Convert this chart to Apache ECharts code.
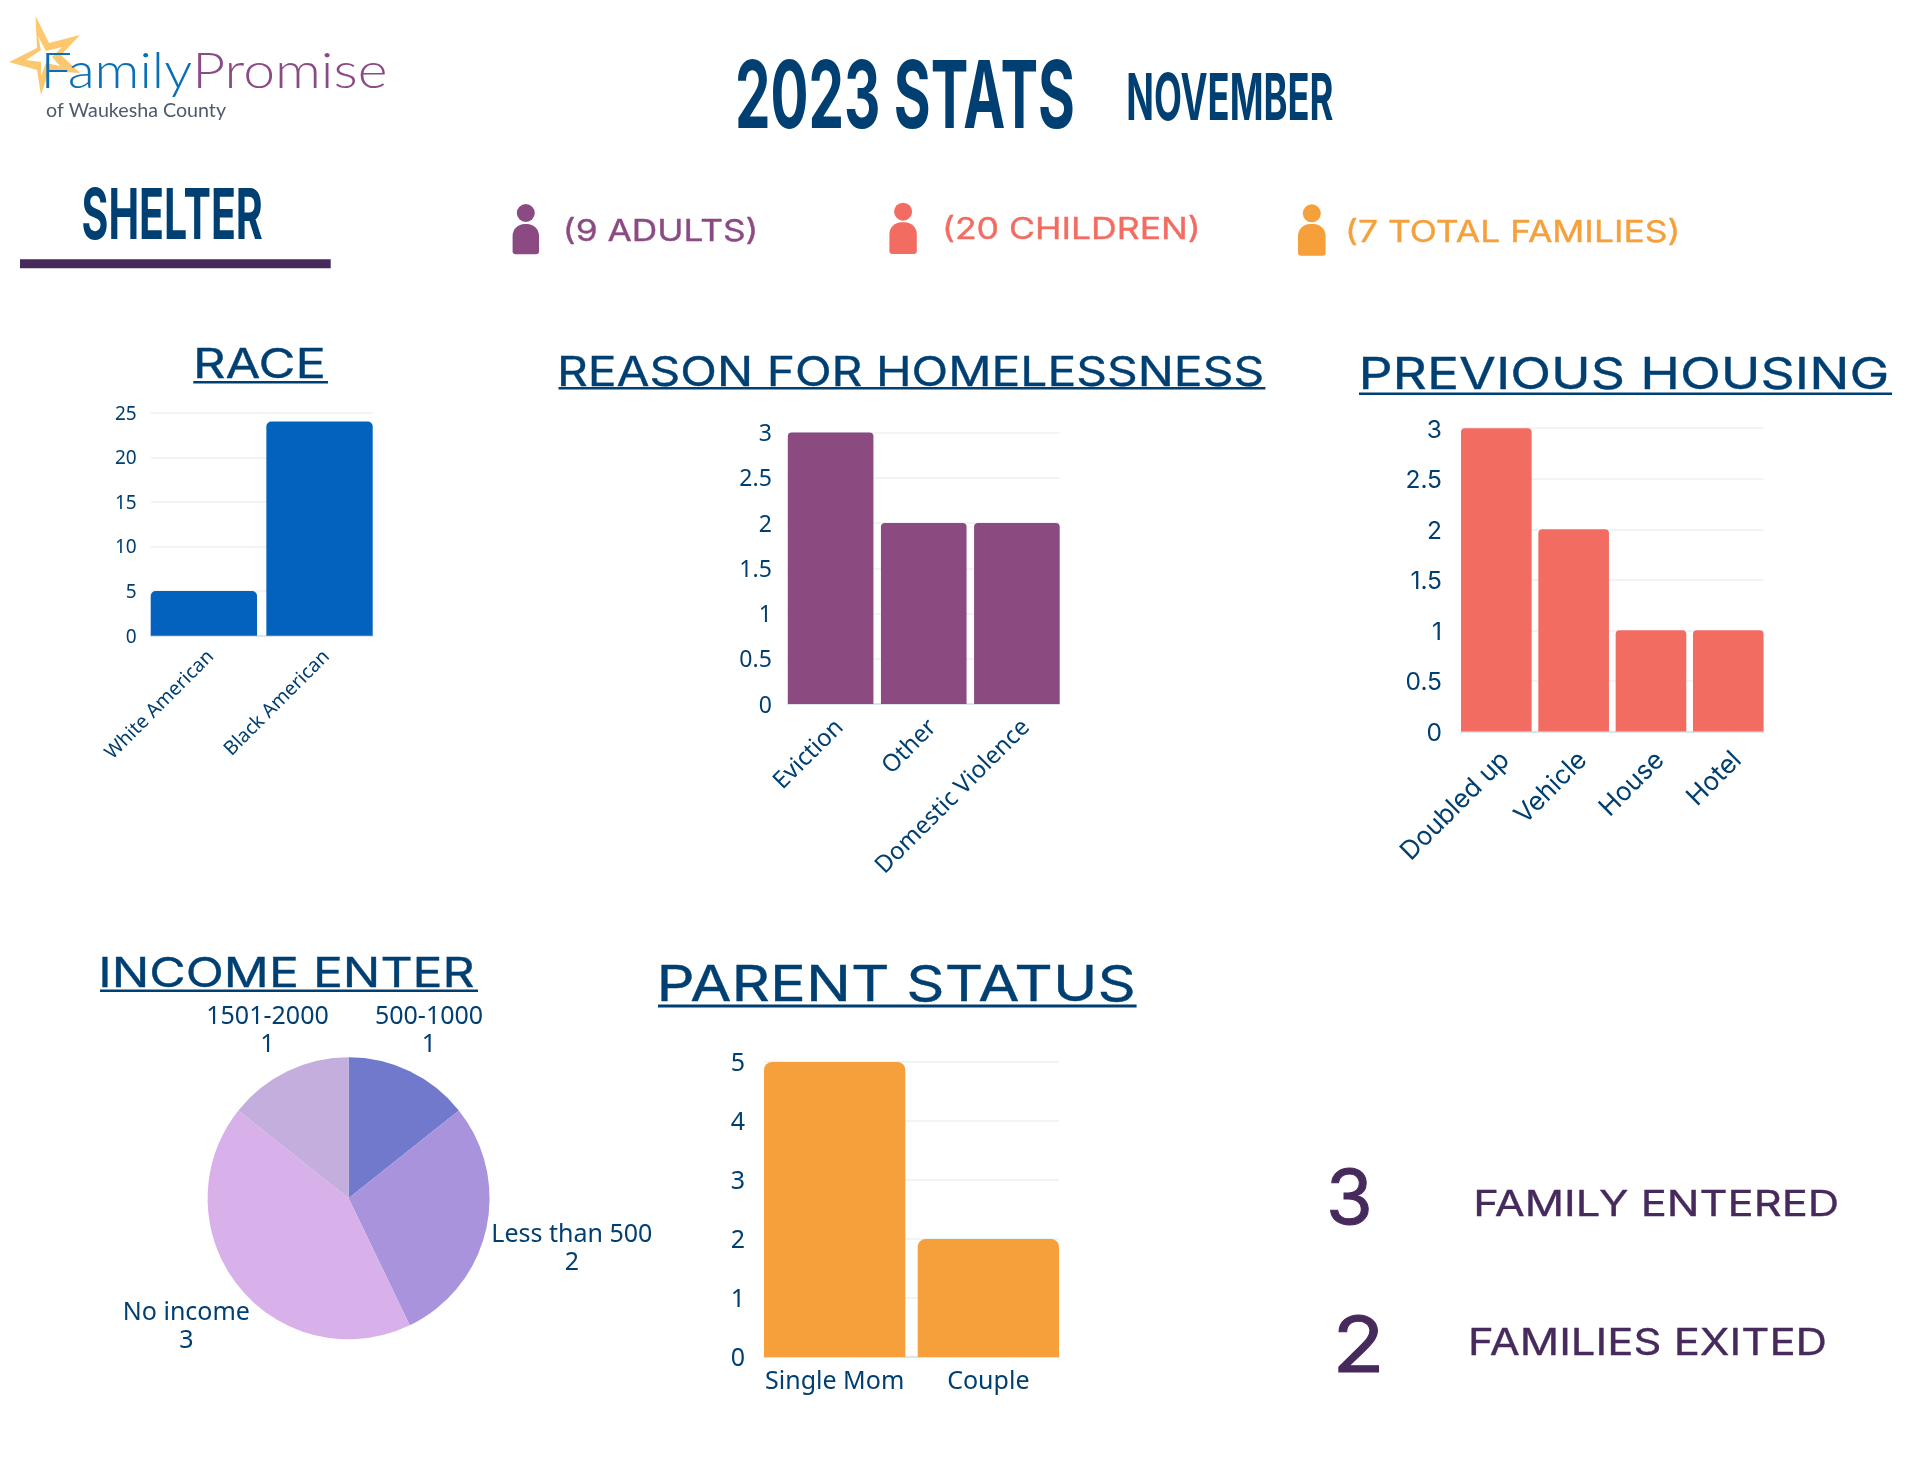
<!DOCTYPE html>
<html><head><meta charset="utf-8">
<style>html,body{margin:0;padding:0;background:#fff}#c{width:1920px;height:1483px}</style>
<script src="https://cdn.jsdelivr.net/npm/echarts@6/dist/echarts.min.js"></script>
</head><body><div id="c"></div>
<script>
// ---- data ----
const raceCategories = ['White American', 'Black American'];
const raceValues = [5, 24];
const reasonCategories = ['Eviction', 'Other', 'Domestic Violence'];
const reasonValues = [3, 2, 2];
const housingCategories = ['Doubled up', 'Vehicle', 'House', 'Hotel'];
const housingValues = [3, 2, 1, 1];
const parentCategories = ['Single Mom', 'Couple'];
const parentValues = [5, 2];
const incomeCategories = ['500-1000', 'Less than 500', 'No income', '1501-2000'];
const incomeValues = [1, 2, 3, 1];
const incomeColors = ['#7179cc', '#a893dc', '#d8b1ea', '#c3aedd'];

const NAVY = '#003f72', DARK = '#472a5c', PURPLE = '#8b4a82', CORAL = '#f36c61', ORANGE = '#f5a03a';
const HEAD = '"Inter"', COND = '"Inter"', BODY = '"Noto Sans"';

const chart = echarts.init(document.getElementById('c'), null, {renderer: 'canvas'});
const mctx = document.createElement('canvas').getContext('2d');

// fitted text: ink spans x0..x1 horizontally, capitals span capTop..capBottom vertically
function T(text, x0, x1, capTop, capBottom, family, weight, fill, ratio, strokeW) {
  const fs = (capBottom - capTop) / (ratio || 0.727);
  const font = `${weight} ${fs}px ${family}`;
  mctx.font = font;
  mctx.textBaseline = 'middle';
  mctx.textAlign = 'left';
  const m = mctx.measureText(text);
  const left = m.actualBoundingBoxLeft, right = m.actualBoundingBoxRight;
  const sx = (x1 - x0) / (left + right);
  const h = mctx.measureText('H');
  const dy = (h.actualBoundingBoxDescent - h.actualBoundingBoxAscent) / 2;
  const style = {text, font, fill, align: 'left', verticalAlign: 'middle'};
  if (strokeW) { style.stroke = fill; style.lineWidth = strokeW; }
  return {type: 'text', x: x0 + left * sx, y: (capTop + capBottom) / 2 - dy, scaleX: sx, z: 10, style};
}
const H = (text, x0, x1, t, b, fill) => T(text, x0, x1, t, b, HEAD, 400, fill, 0.727, 0.35);
const rule = (x0, x1, y, h, fill) => ({type: 'rect', shape: {x: x0, y: y, width: x1 - x0, height: h}, style: {fill}, z: 10});
function person(x0, x1, headY, bodyTop, bodyBottom, fill) {
  return [
    {type: 'circle', shape: {cx: (x0 + x1) / 2, cy: headY, r: 9}, style: {fill}},
    {type: 'rect', shape: {x: x0, y: bodyTop, width: x1 - x0, height: bodyBottom - bodyTop, r: [12, 12, 3, 3]}, style: {fill}}
  ];
}

const grids = [], xAxes = [], yAxes = [], series = [];
function bar(cfg) {
  const g = grids.length;
  const top = cfg.y1, h = cfg.y0 - cfg.y1, w = cfg.x1 - cfg.x0;
  const dx = cfg.dx || 0, dy = cfg.dy || 0;
  // plot frame: split lines, base line
  grids.push({left: cfg.x0, top, width: w, height: h});
  xAxes.push({gridIndex: g, type: 'category', data: [''], axisTick: {show: false}, axisLabel: {show: false},
    axisLine: {show: true, lineStyle: {color: '#d5dfe9', width: 1.5}}, splitLine: {show: false}});
  yAxes.push({gridIndex: g, type: 'value', min: 0, max: cfg.max, interval: cfg.interval,
    axisLine: {show: false}, axisTick: {show: false}, axisLabel: {show: false},
    splitLine: {show: true, lineStyle: {color: '#edf1f5', width: 1.5}}});
  // bars: band grid widened by one gap so that outer bars sit flush with the plot edges
  grids.push({left: cfg.x0 - cfg.gap / 2, top, width: w + cfg.gap, height: h});
  xAxes.push({gridIndex: g + 1, type: 'category', data: cfg.categories, show: false});
  yAxes.push({gridIndex: g + 1, type: 'value', min: 0, max: cfg.max, interval: cfg.interval, show: false, splitLine: {show: false}});
  const band = (w + cfg.gap) / cfg.categories.length;
  series.push({type: 'bar', name: cfg.name, xAxisIndex: g + 1, yAxisIndex: g + 1, data: cfg.values,
    barWidth: band - cfg.gap, itemStyle: {color: cfg.color, borderRadius: [cfg.radius, cfg.radius, 0, 0]}, z: 5, silent: true});
  // tick labels: the same axes, nudged to sit where the reference's labels sit
  grids.push({left: cfg.x0 - cfg.gap / 2 + dx, top: top + dy, width: w + cfg.gap, height: h});
  xAxes.push({gridIndex: g + 2, type: 'category', data: cfg.categories, axisTick: {show: false}, axisLine: {show: false},
    axisLabel: {interval: 0, rotate: cfg.rotate || 0, margin: cfg.xMargin, color: NAVY, fontFamily: cfg.font, fontSize: cfg.xSize, hideOverlap: false}});
  yAxes.push({gridIndex: g + 2, type: 'value', min: 0, max: cfg.max, interval: cfg.interval,
    axisLine: {show: false}, axisTick: {show: false}, splitLine: {show: false},
    axisLabel: {margin: cfg.yMargin - cfg.gap / 2 + dx, color: NAVY, fontFamily: cfg.font, fontSize: cfg.ySize}});
}

bar({name: 'Race', categories: raceCategories, values: raceValues, x0: 150.7, x1: 372.7, y0: 635.7, y1: 412.7,
  gap: 9.3, max: 25, interval: 5, color: '#0362bd', radius: 5, font: BODY, ySize: 19, xSize: 19.4, yMargin: 14, xMargin: 16.5, dx: 7, dy: 1.5, rotate: 45});
bar({name: 'Reason', categories: reasonCategories, values: reasonValues, x0: 787.8, x1: 1059.7, y0: 704, y1: 432.5,
  gap: 7.5, max: 3, interval: 0.5, color: '#8b4a80', radius: 4, font: BODY, ySize: 23, xSize: 24, yMargin: 16, xMargin: 17.6, dx: 9, dy: 2, rotate: 45});
bar({name: 'Previous housing', categories: housingCategories, values: housingValues, x0: 1461, x1: 1763.6, y0: 731.4, y1: 428.2,
  gap: 6.7, max: 3, interval: 0.5, color: CORAL, radius: 4, font: HEAD, ySize: 24.5, xSize: 26, yMargin: 19, xMargin: 22.5, dx: 9, dy: 2, rotate: 45});
bar({name: 'Parent status', categories: parentCategories, values: parentValues, x0: 764, x1: 1059, y0: 1357, y1: 1062,
  gap: 12.4, max: 5, interval: 1, color: ORANGE, radius: 8, font: BODY, ySize: 25, xSize: 25, yMargin: 19, xMargin: 10, dy: 2});

const pieLabelPos = [[429, 1031], [571.8, 1249], [186.4, 1327], [267.5, 1031]];
series.push({type: 'pie', name: 'Income enter', center: [348.6, 1198.3], radius: [0, 141], startAngle: 90, clockwise: true,
  silent: true, data: incomeCategories.map((n, i) => ({name: n, value: incomeValues[i], itemStyle: {color: incomeColors[i]}})),
  label: {show: true, position: 'outside', formatter: '{b}\n{c}', color: NAVY, fontFamily: BODY, fontSize: 25, lineHeight: 28, align: 'center'},
  labelLine: {show: false},
  labelLayout: p => { const q = pieLabelPos[p.dataIndex]; return {x: q[0], y: q[1], align: 'center', verticalAlign: 'middle', hideOverlap: false}; }
});

const gfx = [
  // logo
  {type: 'polygon', shape: {points: [[35.5,16],[49,43],[80,35],[61,55],[80,73],[49,71],[41,95],[37,70],[9,62],[37,48]]}, style: {fill: '#fcc76f'}, z: 9},
  {type: 'polygon', shape: {points: [[38,36],[46,51],[62,47],[52,57],[60,66],[46,63],[41,76],[41,62],[26,60],[41,50]]}, style: {fill: '#ffffff'}, z: 9},
  T('Family', 46, 192, 52, 88, '"Lato"', 300, '#0a6fb5', 0.72),
  T('Promise', 198, 385, 52, 88, '"Lato"', 300, '#8a4a86', 0.72),
  T('of Waukesha County', 46, 226, 103, 117, '"Lato"', 400, '#4d5a6c', 0.72),
  // headers
  T('2023 STATS', 738, 1073, 60, 128, COND, 700, NAVY),
  T('NOVEMBER', 1128.6, 1332.7, 72.7, 119.3, COND, 700, NAVY),
  T('SHELTER', 82.7, 262, 187.7, 239, COND, 700, NAVY),
  rule(20, 330.7, 259.3, 9, DARK),
  // people
  ...person(512.6, 539, 213, 224, 254.3, PURPLE),
  ...person(889.4, 916.8, 211.7, 222.3, 254, CORAL),
  ...person(1298, 1325.6, 213.3, 224, 255.7, ORANGE),
  H('(9 ADULTS)', 566.4, 755, 219, 240.7, PURPLE),
  H('(20 CHILDREN)', 945.5, 1197.4, 217.3, 239, CORAL),
  H('(7 TOTAL FAMILIES)', 1348.6, 1677, 220, 241.7, ORANGE),
  // chart titles
  H('RACE', 196.7, 323, 348.3, 377.7, NAVY), rule(193.3, 328, 381, 2.6, NAVY),
  H('REASON FOR HOMELESSNESS', 560.4, 1261.6, 355.7, 385.4, NAVY), rule(558.5, 1265.4, 387, 2.6, NAVY),
  H('PREVIOUS HOUSING', 1362, 1886.8, 356.8, 389, NAVY), rule(1359, 1892, 392.5, 2.6, NAVY),
  H('INCOME ENTER', 102, 474, 956.7, 986.7, NAVY), rule(100, 478, 989.5, 2.6, NAVY),
  H('PARENT STATUS', 661.4, 1132.4, 965, 1001, NAVY), rule(658, 1136.6, 1004.5, 3, NAVY),
  // counters
  T('3', 1330, 1369, 1169, 1224, HEAD, 400, DARK, 0.727, 1),
  T('2', 1338, 1379, 1316, 1372, HEAD, 400, DARK, 0.727, 1),
  H('FAMILY ENTERED', 1476.8, 1837, 1190, 1216, DARK),
  H('FAMILIES EXITED', 1471.5, 1825.4, 1327.7, 1354.3, DARK)
];

chart.setOption({
  animation: false, backgroundColor: '#ffffff',
  grid: grids, xAxis: xAxes, yAxis: yAxes, series,
  graphic: {elements: gfx}
});
</script></body></html>
